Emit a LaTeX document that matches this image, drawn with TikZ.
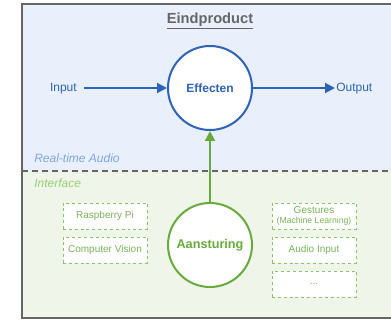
\documentclass[tikz,border=0pt]{standalone}
\usepackage{fontspec}
\setmainfont{Liberation Sans}
\usetikzlibrary{arrows.meta}
\definecolor{bluefill}{RGB}{234,240,251}
\definecolor{greenfill}{RGB}{239,246,233}
\definecolor{bluestroke}{RGB}{45,100,185}
\definecolor{greenstroke}{RGB}{104,170,60}
\definecolor{boxgreen}{RGB}{140,196,106}
\definecolor{boxtext}{RGB}{122,178,90}
\definecolor{rtablue}{RGB}{126,166,224}
\definecolor{ifgreen}{RGB}{151,208,119}
\definecolor{framegray}{RGB}{102,102,102}
\tikzset{
  bigcircle/.style={circle, fill=white, line width=1.5pt, minimum size=63pt, inner sep=0pt},
  optbox/.style={draw=boxgreen, fill=white, dash pattern=on 2.2pt off 2.2pt, line width=0.75pt,
    minimum width=63pt, minimum height=19.5pt, inner sep=0pt, text=boxtext, font=\fontsize{7.5}{9}\selectfont, align=center},
  bluetext/.style={text=bluestroke, font=\fontsize{9}{11}\selectfont},
  flow/.style={line width=1.5pt, -{Triangle[length=7.5pt,width=7.5pt]}}
}
\begin{document}
\begin{tikzpicture}[x=0.75pt,y=-0.75pt]
\useasboundingbox (0,0) rectangle (391,320);
\clip (0,0) rectangle (391,320);
\fill[bluefill] (22,4.5) rectangle (400,171);
\fill[greenfill] (22,171) rectangle (400,318);
\draw[framegray, line width=1.5pt, dash pattern=on 4.5pt off 3pt] (22,171) -- (400,171);
\draw[framegray, line width=1.5pt] (400,4.5) -- (22,4.5) -- (22,318) -- (400,318);

\node[text=framegray, font=\bfseries\fontsize{11}{13}\selectfont] (title) at (210,21) {\underline{Eindproduct}};
\node[text=rtablue, font=\itshape\fontsize{9}{11}\selectfont, anchor=west, inner sep=0pt] (rta) at (34,158) {Real-time Audio};
\node[text=ifgreen, font=\itshape\fontsize{9}{11}\selectfont, anchor=west, inner sep=0pt] (iface) at (34,183) {Interface};

\node[bigcircle, draw=bluestroke, text=bluestroke, font=\bfseries\fontsize{9}{11}\selectfont] (eff) at (210,88) {Effecten};
\node[bigcircle, draw=greenstroke, text=greenstroke, font=\bfseries\fontsize{9.5}{11}\selectfont] (aan) at (210,245) {Aansturing};

\node[bluetext, anchor=east, inner sep=0pt] (in) at (77,88.5) {Input};
\node[bluetext, anchor=west, inner sep=0pt] (out) at (336,88.5) {Output};
\coordinate (inend) at (84,88);
\coordinate (outend) at (335,88);
\draw[flow, bluestroke] (inend) -- (eff.west);
\draw[flow, bluestroke] (eff.east) -- (outend);
\draw[flow, greenstroke] (aan.north) -- (eff.south);

\node[optbox] (rpi) at (105,216) {Raspberry Pi};
\node[optbox] (cv) at (105,250) {Computer Vision};
\node[optbox] (gest) at (314,216) {Gestures\\[-2pt]{\fontsize{6.5}{7}\selectfont(Machine Learning)}};
\node[optbox] (audio) at (314,250) {Audio Input};
\node[optbox] (more) at (314,284) {...};
\end{tikzpicture}
\end{document}
